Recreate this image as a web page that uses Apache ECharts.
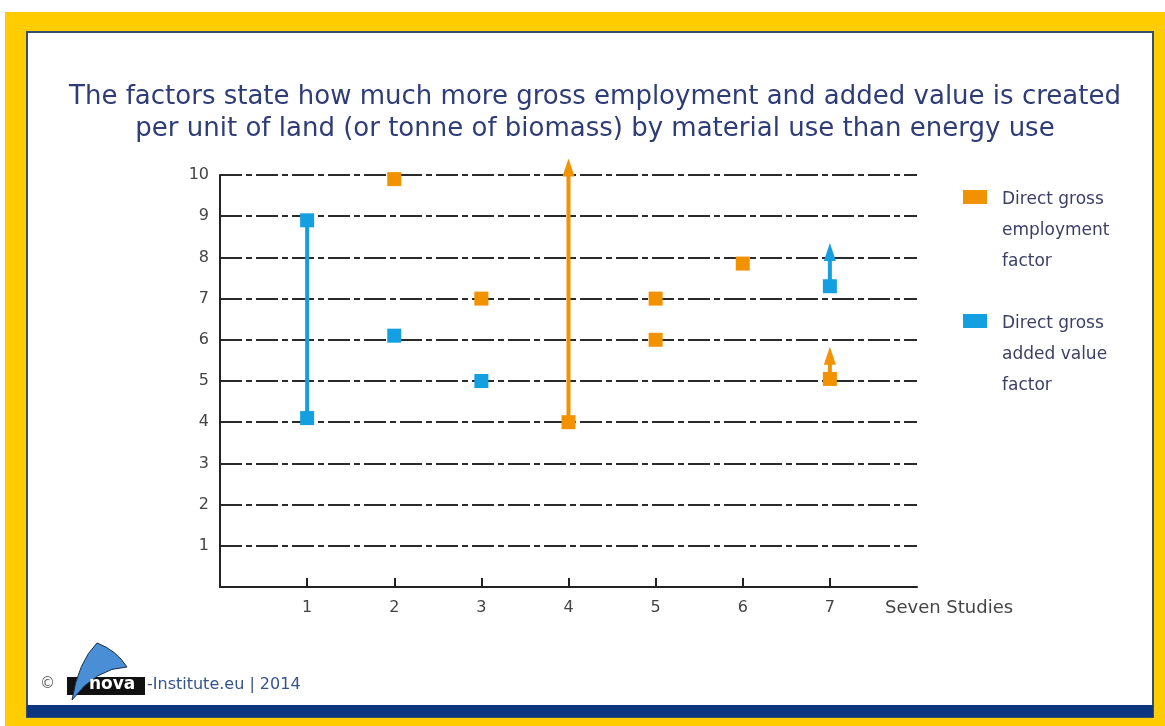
<!DOCTYPE html>
<html>
<head>
<meta charset="utf-8">
<script src="https://cdn.jsdelivr.net/npm/echarts@6/dist/echarts.min.js"></script>
<style>
  html, body { margin: 0; padding: 0; background: #ffffff; }
  #chart { width: 1165px; height: 726px; }
</style>
</head>
<body>
<div id="chart"></div>
<script>
// Studies on the x axis, factors on the y axis
const studyTicks = [1, 2, 3, 4, 5, 6, 7];
const yTicks = [1, 2, 3, 4, 5, 6, 7, 8, 9, 10];

// Point estimates: [study, factor]
const employmentPoints = [[2, 9.9], [3, 7], [4, 4], [5, 7], [5, 6], [6, 7.85], [7, 5.05]];
const addedValuePoints = [[1, 4.1], [1, 8.9], [2, 6.1], [3, 5], [7, 7.3]];

// Ranges: [study, from, to, open-ended (1 = arrow)]
const employmentRanges = [[4, 4, 10.4, 1], [7, 5.05, 5.83, 1]];
const addedValueRanges = [[1, 4.1, 8.9, 0], [7, 7.3, 8.35, 1]];

const ORANGE = '#F39200';
const BLUE = '#139FE0';
const TEXT = '#3b3f66';
const FONT = '"DejaVu Sans"';

const chart = echarts.init(document.getElementById('chart'), null, { renderer: 'canvas' });

function rangeRenderer(color) {
  return function (params, api) {
    const x = api.value(0), lo = api.value(1), hi = api.value(2), arrow = api.value(3);
    const p0 = api.coord([x, lo]);
    const p1 = api.coord([x, hi]);
    const headH = 18, headW = 6;
    const children = [{
      type: 'line',
      shape: { x1: p0[0], y1: p0[1], x2: p1[0], y2: arrow ? p1[1] + headH - 2 : p1[1] },
      style: { stroke: color, lineWidth: 4 }
    }];
    if (arrow) {
      children.push({
        type: 'polygon',
        shape: { points: [[p1[0], p1[1]], [p1[0] - headW, p1[1] + headH], [p1[0] + headW, p1[1] + headH]] },
        style: { fill: color }
      });
    }
    return { type: 'group', children: children };
  };
}

const gridDash = [22, 4, 6, 4];

// sail outline of the logo
const sailPoints = [
  [72, 700], [75.8, 682.2], [81.3, 666.8], [88.3, 653.7], [97, 643],
  [106, 647.1], [114, 652.5], [121, 659.1], [127, 667],
  [111.9, 669.4], [97.8, 675.8], [84.4, 686]
];

const option = {
  animation: false,
  textStyle: { fontFamily: 'DejaVu Sans' },
  title: {
    text: 'The factors state how much more gross employment and added value is created\nper unit of land (or tonne of biomass) by material use than energy use',
    left: 590,
    textAlign: 'center',
    top: 76,
    textStyle: {
      fontFamily: 'DejaVu Sans',
      fontSize: 26,
      fontWeight: 'normal',
      color: '#2e3c78',
      lineHeight: 32,
      align: 'center'
    }
  },
  grid: { left: 220, right: 248, top: 175, bottom: 139, containLabel: false },
  xAxis: {
    type: 'value',
    min: 0,
    max: 8,
    interval: 1,
    name: 'Seven Studies',
    nameLocation: 'end',
    nameGap: -32,
    nameTextStyle: { color: '#444', fontSize: 18, fontFamily: 'DejaVu Sans', verticalAlign: 'top', padding: [12, 0, 0, 0] },
    axisLine: { show: true, lineStyle: { color: '#222', width: 2 } },
    axisTick: { show: true, inside: true, length: 9, customValues: studyTicks, lineStyle: { color: '#222', width: 2 } },
    axisLabel: { customValues: studyTicks, color: '#444', fontSize: 16, fontFamily: 'DejaVu Sans', margin: 13 },
    splitLine: { show: false }
  },
  yAxis: {
    type: 'value',
    min: 0,
    max: 10,
    interval: 1,
    axisLine: { show: true, lineStyle: { color: '#222', width: 2 } },
    axisTick: { show: false },
    axisLabel: {
      color: '#444', fontSize: 16, fontFamily: 'DejaVu Sans', margin: 11,
      formatter: function (v) { return yTicks.indexOf(v) >= 0 ? String(v) : ''; }
    },
    splitLine: { show: true, lineStyle: { color: '#2a2a2a', width: 1.8, type: gridDash } }
  },
  series: [
    {
      name: 'Direct gross employment factor (range)',
      type: 'custom',
      renderItem: rangeRenderer(ORANGE),
      data: employmentRanges,
      z: 3
    },
    {
      name: 'Direct gross added value factor (range)',
      type: 'custom',
      renderItem: rangeRenderer(BLUE),
      data: addedValueRanges,
      z: 3
    },
    {
      name: 'Direct gross employment factor',
      type: 'scatter',
      symbol: 'rect',
      symbolSize: 14,
      itemStyle: { color: ORANGE, opacity: 1 },
      data: employmentPoints,
      z: 4
    },
    {
      name: 'Direct gross added value factor',
      type: 'scatter',
      symbol: 'rect',
      symbolSize: 14,
      itemStyle: { color: BLUE, opacity: 1 },
      data: addedValuePoints,
      z: 4
    }
  ],
  graphic: [
    // yellow frame and white panel
    { type: 'rect', z: -100, shape: { x: 5, y: 12, width: 1160, height: 714 }, style: { fill: '#FFCC00' } },
    { type: 'rect', z: -99, shape: { x: 27, y: 32, width: 1126, height: 685 }, style: { fill: '#ffffff', stroke: '#34506e', lineWidth: 2 } },
    { type: 'rect', z: -98, shape: { x: 27, y: 705, width: 1126, height: 12 }, style: { fill: '#0d3580' } },

    // legend
    { type: 'rect', shape: { x: 963, y: 190, width: 24, height: 14 }, style: { fill: ORANGE } },
    { type: 'text', x: 1002, y: 184, style: { text: 'Direct gross\nemployment\nfactor', fill: TEXT, font: '17px ' + FONT, lineHeight: 31 } },
    { type: 'rect', shape: { x: 963, y: 314, width: 24, height: 14 }, style: { fill: BLUE } },
    { type: 'text', x: 1002, y: 308, style: { text: 'Direct gross\nadded value\nfactor', fill: TEXT, font: '17px ' + FONT, lineHeight: 31 } },

    // footer credit
    { type: 'text', x: 40, y: 677, style: { text: '©', fill: '#666', font: '15px ' + FONT } },
    { type: 'rect', shape: { x: 67, y: 677, width: 78, height: 18 }, style: { fill: '#111111' } },
    { type: 'polygon', shape: { points: sailPoints }, style: { fill: '#4a8fd6', stroke: '#1b2b48', lineWidth: 1 } },
    { type: 'text', x: 89, y: 676, style: { text: 'nova', fill: '#ffffff', font: 'bold 17px ' + FONT } },
    { type: 'text', x: 147, y: 677, style: { text: '-Institute.eu | 2014', fill: '#34538f', font: '16px ' + FONT } }
  ]
};

chart.setOption(option);
</script>
</body>
</html>
